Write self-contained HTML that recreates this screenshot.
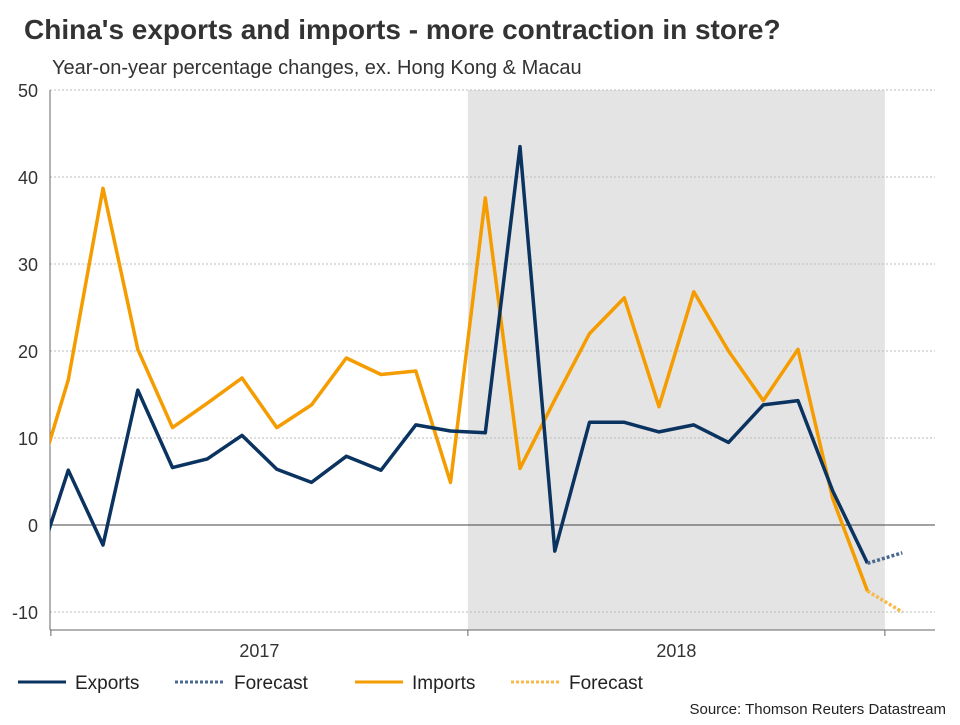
<!DOCTYPE html>
<html><head><meta charset="utf-8"><style>
body{margin:0;background:#fff;font-family:"Liberation Sans",sans-serif}
svg text{font-family:"Liberation Sans",sans-serif}
</style></head><body>
<svg width="960" height="720" viewBox="0 0 960 720">
<text x="24" y="39" font-size="28" font-weight="bold" fill="#333">China's exports and imports - more contraction in store?</text>
<text x="52" y="74" font-size="20" fill="#333">Year-on-year percentage changes, ex. Hong Kong &amp; Macau</text>
<g id="plot"></g>
<g>
<g><line x1="18" y1="682" x2="66" y2="682" stroke="#0a3360" stroke-width="3"/><text x="75" y="689" font-size="19" fill="#222">Exports</text></g>
<g><line x1="175" y1="682" x2="225" y2="682" stroke="#4a6a90" stroke-width="3" stroke-dasharray="3,2"/><text x="234" y="689" font-size="19" fill="#222">Forecast</text></g>
<g><line x1="355" y1="682" x2="403" y2="682" stroke="#f59c00" stroke-width="3"/><text x="412" y="689" font-size="19" fill="#222">Imports</text></g>
<g><line x1="511" y1="682" x2="560" y2="682" stroke="#f8b94a" stroke-width="3" stroke-dasharray="3,2"/><text x="569" y="689" font-size="19" fill="#222">Forecast</text></g>
</g>
<text x="946" y="714" font-size="15" fill="#222" text-anchor="end">Source: Thomson Reuters Datastream</text>
</svg>
<script>
const months = ["Dec16","Jan17","Feb17","Mar17","Apr17","May17","Jun17","Jul17","Aug17","Sep17","Oct17","Nov17","Dec17","Jan18","Feb18","Mar18","Apr18","May18","Jun18","Jul18","Aug18","Sep18","Oct18","Nov18","Dec18"];
const exportsVals = [-6,6.3,-2.3,15.5,6.6,7.6,10.3,6.4,4.9,7.9,6.3,11.5,10.8,10.6,43.5,-3,11.8,11.8,10.7,11.5,9.5,13.8,14.3,3.9,-4.4];
const importsVals = [3.4,16.7,38.7,20.2,11.2,14,16.9,11.2,13.8,19.2,17.3,17.7,4.9,37.6,6.5,14.4,22,26.1,13.6,26.8,20,14.3,20.2,3,-7.6];
const exportsForecast = [-4.4,-3.2];
const importsForecast = [-7.6,-10];
const yTicks = [50,40,30,20,10,0,-10];
const yearLabels = ["2017","2018"];

const L=50,R=935,T=90,B=630;
const x = i => 33.5 + 34.75*i;
const y = v => 525 - v*8.7;
const NS="http://www.w3.org/2000/svg";
const g=document.getElementById('plot');
function mk(t,a){const e=document.createElementNS(NS,t);for(const k in a)e.setAttribute(k,a[k]);g.appendChild(e);return e;}
const defs=mk('defs',{});
const cp=document.createElementNS(NS,'clipPath');cp.setAttribute('id','clip');
const cr=document.createElementNS(NS,'rect');cr.setAttribute('x',L);cr.setAttribute('y',T-5);cr.setAttribute('width',R-L);cr.setAttribute('height',B-T+5);
cp.appendChild(cr);defs.appendChild(cp);
const shade=mk('rect',{x:x(12.5),y:T,width:x(24.5)-x(12.5),height:B-T,fill:'#e4e4e4'});


yTicks.forEach(v=>{
  const ln=mk('line',{x1:L,x2:R,y1:y(v),y2:y(v),stroke:v===0?'#444':'#bbb','stroke-width':1,'stroke-dasharray':v===0?'':'2,2'});
  
  
  const t=mk('text',{x:38,y:y(v)+7,'font-size':18,fill:'#333','text-anchor':'end'});t.textContent=v;
  
  
});
const ax=mk('line',{x1:L,x2:R,y1:B,y2:B,stroke:'#666'});


const ay=mk('line',{x1:L,x2:L,y1:T,y2:B,stroke:'#666'});


[0.5,12.5,24.5].forEach(i=>{const tk=mk('line',{x1:x(i),x2:x(i),y1:B,y2:B+6,stroke:'#666'});

});
yearLabels.forEach((s,k)=>{const t=mk('text',{x:x(6.5+12*k),y:B+27,'font-size':18,fill:'#333','text-anchor':'middle'});t.textContent=s;

});
function line(vals,start,color,dash,name){
  const p=vals.map((v,i)=>x(start+i).toFixed(1)+','+y(v).toFixed(1)).join(' ');
  const e=mk('polyline',{points:p,fill:'none',stroke:color,'stroke-width':3.5,'stroke-dasharray':dash,'clip-path':'url(#clip)','stroke-linejoin':'round'});
  
  
}
line(importsVals,0,'#f59c00','','imports-line');
line(exportsVals,0,'#0a3360','','exports-line');
line(importsForecast,24,'#f8b94a','3,2','imports-forecast-line');
line(exportsForecast,24,'#4a6a90','3,2','exports-forecast-line');
</script>
</body></html>
